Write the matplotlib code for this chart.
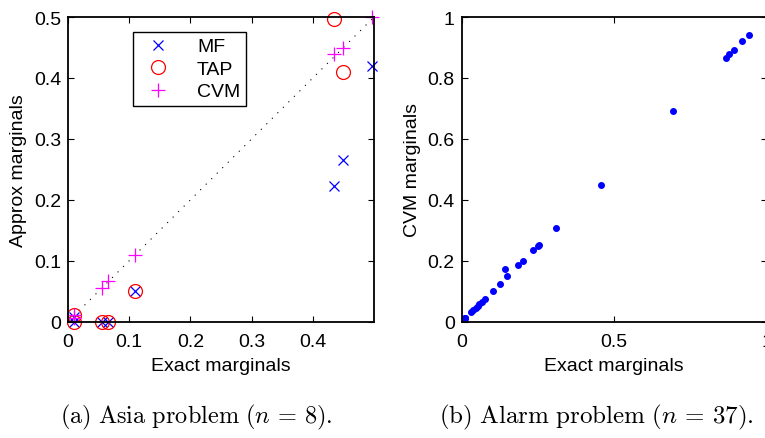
import numpy as np
import matplotlib
matplotlib.use("Agg")
import matplotlib.pyplot as plt

plt.rcParams["font.family"] = ["Liberation Sans", "DejaVu Sans"]
plt.rcParams["mathtext.fontset"] = "cm"

# Asia problem (n = 8): exact vs approximate marginals
asia_exact = [0.010, 0.010, 0.055, 0.066, 0.110, 0.435, 0.450, 0.497]
asia_mf = [0.000, 0.007, 0.000, 0.000, 0.050, 0.222, 0.265, 0.420]
asia_tap = [0.000, 0.011, 0.000, 0.000, 0.050, 0.497, 0.410, np.nan]
asia_cvm = [0.006, 0.011, 0.055, 0.066, 0.110, 0.440, 0.450, 0.500]

# Alarm problem (n = 37): exact vs CVM marginals
alarm_exact = [0.011, 0.011, 0.011, 0.030, 0.038, 0.046, 0.052, 0.057, 0.065,
               0.076, 0.101, 0.124, 0.143, 0.149, 0.184, 0.201, 0.235, 0.249,
               0.253, 0.308, 0.455, 0.692, 0.865, 0.877, 0.891, 0.919, 0.940]
alarm_cvm = [0.011, 0.011, 0.011, 0.032, 0.039, 0.046, 0.052, 0.057, 0.066,
             0.075, 0.100, 0.124, 0.172, 0.150, 0.185, 0.200, 0.234, 0.249,
             0.252, 0.307, 0.449, 0.692, 0.865, 0.878, 0.891, 0.920, 0.940]

FS = 14

fig = plt.figure(figsize=(7.65, 4.39), dpi=100)
ax1 = fig.add_axes([0.0889, 0.2649, 0.4, 0.694])
ax2 = fig.add_axes([0.6035, 0.2649, 0.399, 0.694])

# left panel
ax1.plot([0, 0.5], [0, 0.5], ls=(0, (1, 6)), color="k", lw=0.8)
ax1.plot(asia_exact, asia_mf, "x", color="blue", ms=7, mew=0.9, label="MF", clip_on=False)
ax1.plot(asia_exact, asia_tap, "o", color="red", mfc="none", ms=10, mew=0.9, label="TAP", clip_on=False)
ax1.plot(asia_exact, asia_cvm, "+", color="magenta", ms=10, mew=0.9, label="CVM", clip_on=False)
ax1.set_xlim(0, 0.5)
ax1.set_ylim(0, 0.5)
ax1.set_xticks([0, 0.1, 0.2, 0.3, 0.4])
ax1.set_xticklabels(["0", "0.1", "0.2", "0.3", "0.4"])
ax1.set_yticks([0, 0.1, 0.2, 0.3, 0.4, 0.5])
ax1.set_yticklabels(["0", "0.1", "0.2", "0.3", "0.4", "0.5"])
ax1.set_xlabel("Exact marginals", fontsize=FS, labelpad=5)
ax1.set_ylabel("Approx marginals", fontsize=FS, labelpad=5)
leg = ax1.legend(loc="upper left", bbox_to_anchor=(0.212, 0.951), fontsize=FS,
                 fancybox=False, edgecolor="black", framealpha=1, borderaxespad=0,
                 handletextpad=1.0, borderpad=0.3, labelspacing=0.25)
leg.get_frame().set_linewidth(1.0)

# right panel
ax2.plot(alarm_exact, alarm_cvm, "o", color="blue", ms=4, mec="blue", clip_on=False)
ax2.set_xlim(0, 1)
ax2.set_ylim(0, 1)
ax2.set_xticks([0, 0.5, 1])
ax2.set_xticklabels(["0", "0.5", "1"])
ax2.set_yticks([0, 0.2, 0.4, 0.6, 0.8, 1])
ax2.set_yticklabels(["0", "0.2", "0.4", "0.6", "0.8", "1"])
ax2.set_xlabel("Exact marginals", fontsize=FS, labelpad=5)
ax2.set_ylabel("CVM marginals", fontsize=FS, labelpad=5)

for ax in (ax1, ax2):
    ax.tick_params(direction="in", length=4, width=0.8, top=True, right=True,
                   labelsize=FS, pad=5, color="black")
    ax.tick_params(axis="x", pad=8)
    for sp in ax.spines.values():
        sp.set_linewidth(1.3)

fig.text(0.257, 0.048, r"$\mathrm{(a)\ Asia\ problem\ (}n\,=\,8\mathrm{).}$",
         ha="center", va="center", fontsize=17.5)
fig.text(0.779, 0.048, r"$\mathrm{(b)\ Alarm\ problem\ (}n\,=\,37\mathrm{).}$",
         ha="center", va="center", fontsize=18)

fig.savefig("out.png", dpi=100)
